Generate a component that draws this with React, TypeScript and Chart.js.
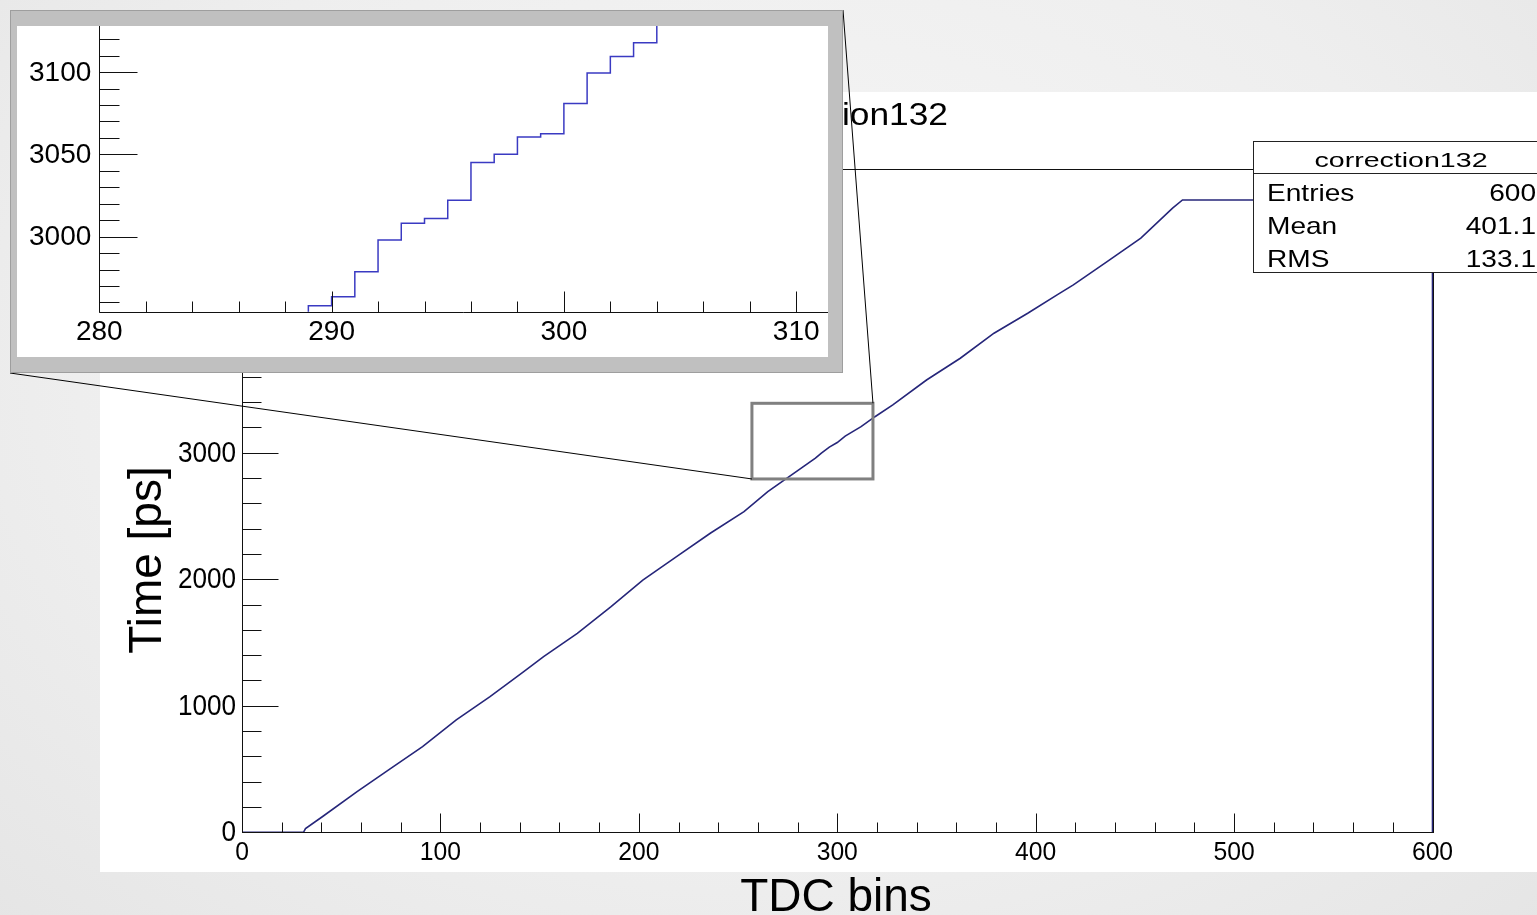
import React, { useEffect, useRef } from 'react';
import { Chart, registerables } from 'chart.js';

Chart.register(...registerables);

// ---------------- data ----------------
const histTitle = 'correction132';
const xAxisTitle = 'TDC bins';
const yAxisTitle = 'Time [ps]';
const statsLabels = ['Entries', 'Mean', 'RMS'];
const statsValues = ['600', '401.1', '133.1'];

// main histogram (bin lower edge -> time)
const mainBins = [0, 31, 32, 41, 58, 75, 91, 108, 125, 142, 152, 169, 186, 202, 219, 236, 253, 265, 289, 292, 296, 300, 304, 312, 319, 328, 345, 362, 379, 396, 411, 419, 436, 453, 469, 474, 600, 600];
const mainValues = [0, 0, 30, 129, 321, 506, 677, 888, 1072, 1270, 1388, 1573, 1783, 1994, 2179, 2364, 2534, 2693, 2958, 2998, 3045, 3081, 3132, 3206, 3285, 3378, 3575, 3747, 3945, 4103, 4250, 4327, 4511, 4696, 4933, 4998, 4998, 0];
const mainXTicks = [0, 100, 200, 300, 400, 500, 600];
const mainYTicks = [0, 1000, 2000, 3000, 4000, 5000];
const mainXRange = [0, 600];
const mainYRange = [0, 5243];
const mainXMinorStep = 20;
const mainYMinorStep = 200;

// zoom box on the main chart (data coordinates)
const zoomBoxX = [257, 318];
const zoomBoxY = [2793, 3391];

// inset (zoomed) histogram, one value per bin
const insetBins = [288, 289, 290, 291, 292, 293, 294, 295, 296, 297, 298, 299, 300, 301, 302, 303, 304, 305];
const insetValues = [2946, 2958, 2963.5, 2978.7, 2998, 3008.2, 3011, 3022.1, 3045, 3050.1, 3060.6, 3062.5, 3080.9, 3099.4, 3109.5, 3117.8, 3132, 3140];
const insetXTicks = [280, 290, 300, 310];
const insetYTicks = [3000, 3050, 3100];
const insetXRange = [280, 311.37];
const insetYRange = [2954.4, 3128];
const insetXMinorStep = 2;
const insetYMinorStep = 10;

// ---------------- layout / style ----------------
const W = 1537;
const H = 915;
const FONT = '"Liberation Sans", Arial, Helvetica, sans-serif';
const MAIN_LINE = '#26267a';
const INSET_LINE = '#3a3ac2';
const INSET_BOX = { left: 10, top: 10, right: 843, bottom: 373 };

function txt(
  ctx: CanvasRenderingContext2D,
  s: string,
  x: number,
  y: number,
  size: number,
  align: CanvasTextAlign,
  baseline: CanvasTextBaseline,
  sx = 1,
  rot = 0
) {
  ctx.save();
  ctx.translate(x, y);
  if (rot) ctx.rotate(rot);
  ctx.scale(sx, 1);
  ctx.font = `${size}px ${FONT}`;
  ctx.textAlign = align;
  ctx.textBaseline = baseline;
  ctx.fillStyle = '#000';
  ctx.fillText(s, 0, 0);
  ctx.restore();
}

function seg(ctx: CanvasRenderingContext2D, x1: number, y1: number, x2: number, y2: number) {
  ctx.beginPath();
  ctx.moveTo(x1, y1);
  ctx.lineTo(x2, y2);
  ctx.stroke();
}

const mainPlugin = {
  id: 'rootMain',
  beforeDraw(chart: any) {
    const ctx = chart.ctx as CanvasRenderingContext2D;
    ctx.save();
    ctx.fillStyle = '#ffffff';
    ctx.fillRect(100, 92, W - 100, 780);
    ctx.restore();
  },
  afterDraw(chart: any) {
    const ctx = chart.ctx as CanvasRenderingContext2D;
    const a = chart.chartArea;
    const xs = chart.scales.x;
    const ys = chart.scales.y;
    ctx.save();
    ctx.strokeStyle = '#111';
    ctx.lineWidth = 1;
    const L = Math.round(a.left) + 0.5;
    const B = Math.round(a.bottom) + 0.5;
    const T = Math.round(a.top) + 0.5;
    const R = Math.round(a.right) + 0.5;
    // frame
    ctx.strokeRect(L, T, R - L, B - T);
    // x ticks
    for (let v = mainXRange[0]; v <= mainXRange[1] + 1e-6; v += mainXMinorStep) {
      const px = Math.round(xs.getPixelForValue(v)) + 0.5;
      const major = mainXTicks.includes(v);
      seg(ctx, px, B, px, B - (major ? 19 : 10));
    }
    // y ticks
    for (let v = mainYRange[0]; v <= mainYRange[1] + 1e-6; v += mainYMinorStep) {
      const py = Math.round(ys.getPixelForValue(v)) + 0.5;
      const major = mainYTicks.includes(v);
      seg(ctx, L, py, L + (major ? 36 : 19), py);
    }
    // tick labels
    mainXTicks.forEach((v) => txt(ctx, String(v), xs.getPixelForValue(v), a.bottom + 28, 26, 'center', 'alphabetic', 0.95));
    mainYTicks.forEach((v) => txt(ctx, String(v), a.left - 6, ys.getPixelForValue(v) + 1, 29, 'right', 'middle', 0.9));
    // axis titles
    txt(ctx, xAxisTitle, 836, 911, 46, 'center', 'alphabetic');
    txt(ctx, yAxisTitle, 161, 560, 46, 'center', 'alphabetic', 1, -Math.PI / 2);
    // title
    txt(ctx, histTitle, 948, 125, 31, 'right', 'alphabetic', 1.14);
    // stats box
    ctx.fillStyle = '#fff';
    ctx.fillRect(1253.5, 141.5, 300, 131);
    ctx.strokeStyle = '#222';
    ctx.strokeRect(1253.5, 141.5, 300, 131);
    seg(ctx, 1253.5, 173.5, 1553.5, 173.5);
    txt(ctx, histTitle, 1401, 166.5, 21, 'center', 'alphabetic', 1.36);
    const rowBase = [200.5, 233.5, 266.5];
    statsLabels.forEach((s, i) => txt(ctx, s, 1267, rowBase[i], 24, 'left', 'alphabetic', 1.17));
    statsValues.forEach((s, i) => txt(ctx, s, 1536, rowBase[i], 24, 'right', 'alphabetic', 1.17));
    // zoom box
    const zx1 = xs.getPixelForValue(zoomBoxX[0]);
    const zx2 = xs.getPixelForValue(zoomBoxX[1]);
    const zy1 = ys.getPixelForValue(zoomBoxY[1]);
    const zy2 = ys.getPixelForValue(zoomBoxY[0]);
    ctx.strokeStyle = '#808080';
    ctx.lineWidth = 3;
    ctx.strokeRect(zx1, zy1, zx2 - zx1, zy2 - zy1);
    // connector lines
    ctx.strokeStyle = '#000';
    ctx.lineWidth = 1;
    seg(ctx, INSET_BOX.left, INSET_BOX.bottom, zx1, zy2);
    seg(ctx, INSET_BOX.right, INSET_BOX.top, zx2, zy1);
    ctx.restore();
  },
};

const insetPlugin = {
  id: 'rootInset',
  beforeDraw(chart: any) {
    const ctx = chart.ctx as CanvasRenderingContext2D;
    const w = chart.width;
    const h = chart.height;
    ctx.save();
    ctx.fillStyle = '#c0c0c0';
    ctx.fillRect(0, 0, w, h);
    ctx.strokeStyle = '#9e9e9e';
    ctx.lineWidth = 1;
    ctx.strokeRect(0.5, 0.5, w - 1, h - 1);
    ctx.fillStyle = '#ffffff';
    ctx.fillRect(7, 16, 811, 331);
    ctx.restore();
  },
  afterDraw(chart: any) {
    const ctx = chart.ctx as CanvasRenderingContext2D;
    const a = chart.chartArea;
    const xs = chart.scales.x;
    const ys = chart.scales.y;
    ctx.save();
    ctx.strokeStyle = '#111';
    ctx.lineWidth = 1;
    const L = Math.round(a.left) + 0.5;
    const B = Math.round(a.bottom) + 0.5;
    seg(ctx, L, a.top, L, B);
    seg(ctx, L, B, a.right, B);
    for (let v = insetXRange[0]; v <= insetXRange[1] + 1e-6; v += insetXMinorStep) {
      const px = Math.round(xs.getPixelForValue(v)) + 0.5;
      const major = insetXTicks.includes(v);
      seg(ctx, px, B, px, B - (major ? 21 : 11));
    }
    for (let v = 2960; v <= insetYRange[1] + 1e-6; v += insetYMinorStep) {
      const py = Math.round(ys.getPixelForValue(v)) + 0.5;
      const major = insetYTicks.includes(v);
      seg(ctx, L, py, L + (major ? 38 : 20), py);
    }
    insetXTicks.forEach((v) => txt(ctx, String(v), xs.getPixelForValue(v), a.bottom + 28.5, 28, 'center', 'alphabetic'));
    insetYTicks.forEach((v) => txt(ctx, String(v), a.left - 8, ys.getPixelForValue(v) + 1, 28, 'right', 'middle'));
    ctx.restore();
  },
};

export default function App() {
  const mainRef = useRef<HTMLCanvasElement>(null);
  const insetRef = useRef<HTMLCanvasElement>(null);

  useEffect(() => {
    if (!mainRef.current || !insetRef.current) return;
    const main = new Chart(mainRef.current, {
      type: 'line',
      data: {
        datasets: [
          {
            data: mainBins.map((b, i) => ({ x: b, y: mainValues[i] })),
            borderColor: MAIN_LINE,
            borderWidth: 1.6,
            pointRadius: 0,
            fill: false,
            tension: 0,
            clip: 3,
          } as any,
        ],
      },
      options: {
        animation: false,
        responsive: false,
        maintainAspectRatio: false,
        events: [],
        layout: { padding: { left: 242, right: W - 1432.5, top: 169, bottom: H - 832.3 } },
        scales: {
          x: { type: 'linear', min: mainXRange[0], max: mainXRange[1], display: false },
          y: { type: 'linear', min: mainYRange[0], max: mainYRange[1], display: false },
        },
        plugins: { legend: { display: false }, tooltip: { enabled: false } },
      },
      plugins: [mainPlugin],
    });

    const iw = INSET_BOX.right - INSET_BOX.left;
    const ih = INSET_BOX.bottom - INSET_BOX.top;
    const inset = new Chart(insetRef.current, {
      type: 'line',
      data: {
        datasets: [
          {
            data: insetBins.map((b, i) => ({ x: b, y: insetValues[i] })),
            borderColor: INSET_LINE,
            borderWidth: 1.5,
            pointRadius: 0,
            fill: false,
            stepped: 'before',
          } as any,
        ],
      },
      options: {
        animation: false,
        responsive: false,
        maintainAspectRatio: false,
        events: [],
        layout: { padding: { left: 99.3 - INSET_BOX.left, right: INSET_BOX.right - 828, top: 26 - INSET_BOX.top, bottom: INSET_BOX.bottom - 311.7 } },
        scales: {
          x: { type: 'linear', min: insetXRange[0], max: insetXRange[1], display: false },
          y: { type: 'linear', min: insetYRange[0], max: insetYRange[1], display: false },
        },
        plugins: { legend: { display: false }, tooltip: { enabled: false } },
      },
      plugins: [insetPlugin],
    });
    void iw;
    void ih;
    return () => {
      main.destroy();
      inset.destroy();
    };
  }, []);

  return (
    <div
      style={{
        position: 'fixed',
        left: 0,
        top: 0,
        width: W,
        height: H,
        overflow: 'hidden',
        background: 'radial-gradient(ellipse 75% 90% at 50% 40%, #f7f7f7 0%, #eeeeee 60%, #e4e4e4 100%)',
      }}
    >
      <canvas ref={mainRef} width={W} height={H} style={{ position: 'absolute', left: 0, top: 0, width: W, height: H }} />
      <canvas
        ref={insetRef}
        width={INSET_BOX.right - INSET_BOX.left}
        height={INSET_BOX.bottom - INSET_BOX.top}
        style={{
          position: 'absolute',
          left: INSET_BOX.left,
          top: INSET_BOX.top,
          width: INSET_BOX.right - INSET_BOX.left,
          height: INSET_BOX.bottom - INSET_BOX.top,
        }}
      />
    </div>
  );
}
